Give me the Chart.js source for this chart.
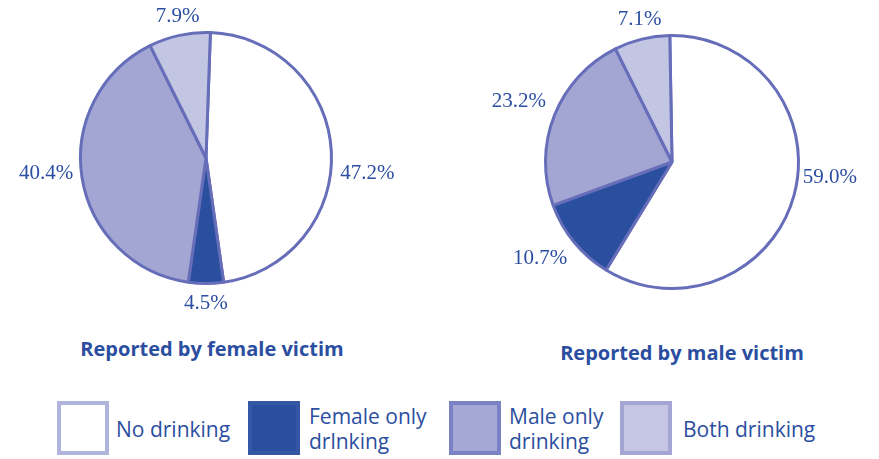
<!DOCTYPE html>
<html lang="en">
<head>
    <meta charset="UTF-8">
    <style>
        * {
            margin: 0;
            padding: 0;
            box-sizing: border-box;
        }
        body {
            width: 879px;
            height: 459px;
            background: #ffffff;
            font-family: "Open Sans", Arial, sans-serif;
            color: #2b4ea0;
            position: relative;
            overflow: hidden;
        }
        .pie-box {
            position: absolute;
            top: 0;
            height: 320px;
        }
        .title {
            position: absolute;
            font-weight: bold;
            font-size: 20px;
            white-space: nowrap;
            transform: translateX(-50%);
        }
        .key {
            position: absolute;
            top: 401px;
            width: 52px;
            height: 54px;
            border: 4px solid;
        }
        .key-text {
            position: absolute;
            font-size: 21px;
            line-height: 25px;
            white-space: nowrap;
        }
    </style>
</head>
<body>
    <div class="pie-box" style="left:0; width:420px;"><canvas id="femaleChart"></canvas></div>
    <div class="pie-box" style="left:440px; width:439px;"><canvas id="maleChart"></canvas></div>

    <div class="title" style="left:212px; top:335px;">Reported by female victim</div>
    <div class="title" style="left:682px; top:339px;">Reported by male victim</div>

    <!-- legend -->
    <div class="key" style="left:57px; background:#ffffff; border-color:#b1b4da;"></div>
    <div class="key-text" style="left:116px; top:417px;">No drinking</div>
    <div class="key" style="left:248px; background:#2a4f9f; border-color:#3457a6;"></div>
    <div class="key-text" style="left:309px; top:404px;">Female only<br>drlnking</div>
    <div class="key" style="left:449px; background:#a5a8d5; border-color:#7c80c4;"></div>
    <div class="key-text" style="left:509px; top:404px;">Male only<br>drinking</div>
    <div class="key" style="left:620px; background:#c4c6e3; border-color:#a3a6d4;"></div>
    <div class="key-text" style="left:683px; top:417px;">Both drinking</div>

    <script src="https://cdn.jsdelivr.net/npm/chart.js"></script>
    <script>
        const categories = ["No drinking", "Female only drinking", "Male only drinking", "Both drinking"];
        const femaleVictim = [47.2, 4.5, 40.4, 7.9];
        const maleVictim = [59.0, 10.7, 23.2, 7.1];
        const sliceColors = ["#ffffff", "#2a4f9f", "#a3a6d3", "#c3c6e3"];

        // percent labels outside each slice
        const outsideLabels = {
            id: "outsideLabels",
            afterDatasetsDraw(chart) {
                const ctx = chart.ctx;
                const values = chart.data.datasets[0].data;
                ctx.save();
                ctx.font = "21px 'Liberation Serif', serif";
                ctx.fillStyle = "#2b4ea0";
                chart.getDatasetMeta(0).data.forEach((arc, i) => {
                    const mid = (arc.startAngle + arc.endAngle) / 2;
                    const r = arc.outerRadius + 9;
                    const c = Math.cos(mid), s = Math.sin(mid);
                    const x = arc.x + c * r;
                    let y = arc.y + s * r;
                    const side = Math.abs(c) > 0.95;
                    // side labels sit a little below the centre line
                    if (side) y = arc.y + 15;
                    ctx.textAlign = c > 0.3 ? "left" : (c < -0.3 ? "right" : "center");
                    ctx.textBaseline = side ? "middle" : (s > 0.3 ? "top" : (s < -0.3 ? "bottom" : "middle"));
                    ctx.fillText(values[i].toFixed(1) + "%", x, y);
                });
                ctx.restore();
            }
        };

        function makePie(id, values, padding, rotation) {
            new Chart(id, {
                type: "pie",
                data: {
                    labels: categories,
                    datasets: [{
                        data: values,
                        backgroundColor: sliceColors,
                        borderColor: "#666db9",
                        borderWidth: 3
                    }]
                },
                options: {
                    responsive: true,
                    maintainAspectRatio: false,
                    animation: false,
                    rotation: rotation,
                    layout: { padding: padding },
                    plugins: {
                        legend: { display: false },
                        tooltip: { enabled: false }
                    }
                },
                plugins: [outsideLabels]
            });
        }

        makePie("femaleChart", femaleVictim, { left: 79, right: 87, top: 31, bottom: 35 }, 2);
        makePie("maleChart", maleVictim, { left: 104, right: 79, top: 34, bottom: 30 }, -1);
    </script>
</body>
</html>
